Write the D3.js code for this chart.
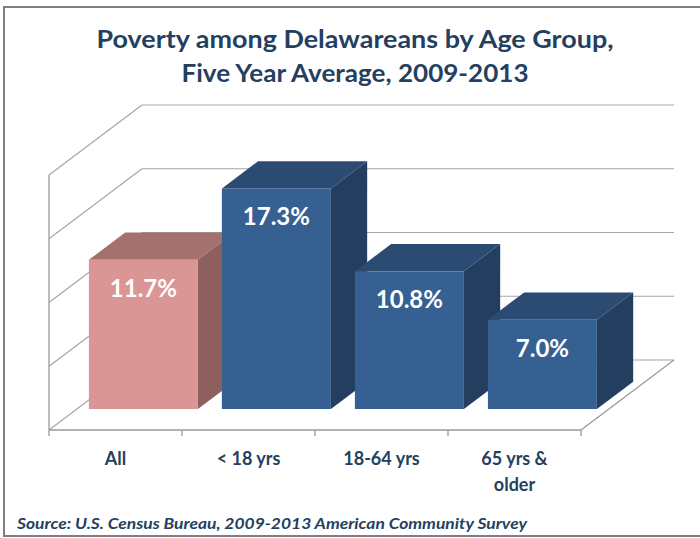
<!DOCTYPE html>
<html>
<head>
<meta charset="utf-8">
<script src="https://cdn.jsdelivr.net/npm/d3@7"></script>
<style>
  html, body { margin: 0; padding: 0; background: #fff; }
  svg { display: block; }
</style>
</head>
<body>
<script>
// ---- data ----
const categories = ["All", "< 18 yrs", "18-64 yrs", "65 yrs &\nolder"];
const values = [11.7, 17.3, 10.8, 7.0];
const gridValues = [0, 5, 10, 15, 20];
const valueLabels = ["11.7%", "17.3%", "10.8%", "7.0%"];
const titleLines = ["Poverty among Delawareans by Age Group,", "Five Year Average, 2009-2013"];
const sourceText = "Source: U.S. Census Bureau, 2009-2013 American Community Survey";

// face colours: [front, top, side]
const pinkFaces = ["#D99694", "#A5716F", "#8D5F5D"];
const blueFaces = ["#376092", "#2C4B73", "#233E5F"];

const W = 700, H = 538;
const navy = "#243F60";
const font = "Lato, 'Open Sans', sans-serif";

const svg = d3.select("body").append("svg")
  .attr("width", W).attr("height", H);

// frame
svg.append("rect")
  .attr("x", 4).attr("y", 7).attr("width", 720).attr("height", 529)
  .attr("fill", "none").attr("stroke", "#7f7f7f").attr("stroke-width", 2);

// ---- scales (front plane) + oblique depth ----
const x = d3.scaleBand().domain(categories).range([49, 581])
  .paddingInner(24 / 133).paddingOuter(12 / 133);
const y = d3.scaleLinear().domain([0, 20]).range([430, 175]);
const depth = { dx: 93, dy: -70 };
const t0 = 0.30, t1 = 0.69;   // bar depth span within the floor

const P = (xf, v, t) => [xf + t * depth.dx, y(v) + t * depth.dy];
const [xMin, xMax] = x.range();

// ---- walls & gridlines ----
const grid = svg.append("g").attr("stroke", "#a6a6a6").attr("stroke-width", 1.2).attr("fill", "none");
gridValues.forEach(g => {
  const a = P(xMin, g, 1), b = P(xMax, g, 1), c = P(xMin, g, 0);
  grid.append("line").attr("x1", a[0]).attr("y1", a[1]).attr("x2", b[0]).attr("y2", b[1]);
  grid.append("line").attr("x1", c[0]).attr("y1", c[1]).attr("x2", a[0]).attr("y2", a[1]);
});

// floor edges, value axis line and category ticks
const axes = svg.append("g").attr("stroke", "#9a9a9a").attr("stroke-width", 1.3).attr("fill", "none");
const f0 = P(xMin, 0, 0), f1 = P(xMax, 0, 0), f2 = P(xMax, 0, 1);
axes.append("line").attr("x1", f0[0]).attr("y1", f0[1]).attr("x2", f1[0]).attr("y2", f1[1]);
axes.append("line").attr("x1", f1[0]).attr("y1", f1[1]).attr("x2", f2[0]).attr("y2", f2[1]);
axes.append("line").attr("x1", xMin).attr("y1", y(20)).attr("x2", xMin).attr("y2", y(0));
d3.range(categories.length + 1).forEach(i => {
  const tx = xMin + i * x.step();
  axes.append("line").attr("x1", tx).attr("y1", y(0)).attr("x2", tx).attr("y2", y(0) + 6);
});

// ---- bars ----
const bars = svg.append("g");
categories.forEach((c, i) => {
  const v = values[i];
  const faces = i === 0 ? pinkFaces : blueFaces;
  const xl = x(c), xr = x(c) + x.bandwidth();
  const poly = pts => pts.map(p => p.join(",")).join(" ");
  const g = bars.append("g");
  // top
  g.append("polygon").attr("fill", faces[1])
    .attr("points", poly([P(xl, v, t0), P(xr, v, t0), P(xr, v, t1), P(xl, v, t1)]));
  // side
  g.append("polygon").attr("fill", faces[2])
    .attr("points", poly([P(xr, v, t0), P(xr, v, t1), P(xr, 0, t1), P(xr, 0, t0)]));
  // front
  const ft = P(xl, v, t0), fb = P(xr, 0, t0);
  g.append("rect").attr("fill", faces[0])
    .attr("x", ft[0]).attr("y", ft[1]).attr("width", fb[0] - ft[0]).attr("height", fb[1] - ft[1]);
  // value label
  g.append("text")
    .attr("x", (ft[0] + fb[0]) / 2).attr("y", ft[1] + 37)
    .attr("text-anchor", "middle").attr("fill", "#fff")
    .attr("font-family", font).attr("font-weight", 700).attr("font-size", 24)
    .text(valueLabels[i]);
});

// ---- category labels ----
categories.forEach(c => {
  const t = svg.append("text")
    .attr("x", x(c) + x.bandwidth() / 2).attr("y", 465)
    .attr("text-anchor", "middle").attr("fill", navy)
    .attr("font-family", font).attr("font-weight", 700).attr("font-size", 18);
  c.split("\n").forEach((line, k) => {
    t.append("tspan").attr("x", x(c) + x.bandwidth() / 2).attr("dy", k === 0 ? 0 : 26).text(line);
  });
});

// ---- title ----
const titleWidths = [517, 347];
const titleY = [48, 82];
titleLines.forEach((line, k) => {
  svg.append("text")
    .attr("x", 355).attr("y", titleY[k])
    .attr("text-anchor", "middle").attr("fill", navy)
    .attr("font-family", font).attr("font-weight", 700).attr("font-size", 25)
    .attr("textLength", titleWidths[k]).attr("lengthAdjust", "spacingAndGlyphs")
    .text(line);
});

// ---- source note ----
svg.append("text")
  .attr("x", 17).attr("y", 529)
  .attr("fill", navy)
  .attr("font-family", font).attr("font-weight", 700).attr("font-style", "italic").attr("font-size", 15)
  .attr("textLength", 510).attr("lengthAdjust", "spacingAndGlyphs")
  .text(sourceText);
</script>
</body>
</html>
